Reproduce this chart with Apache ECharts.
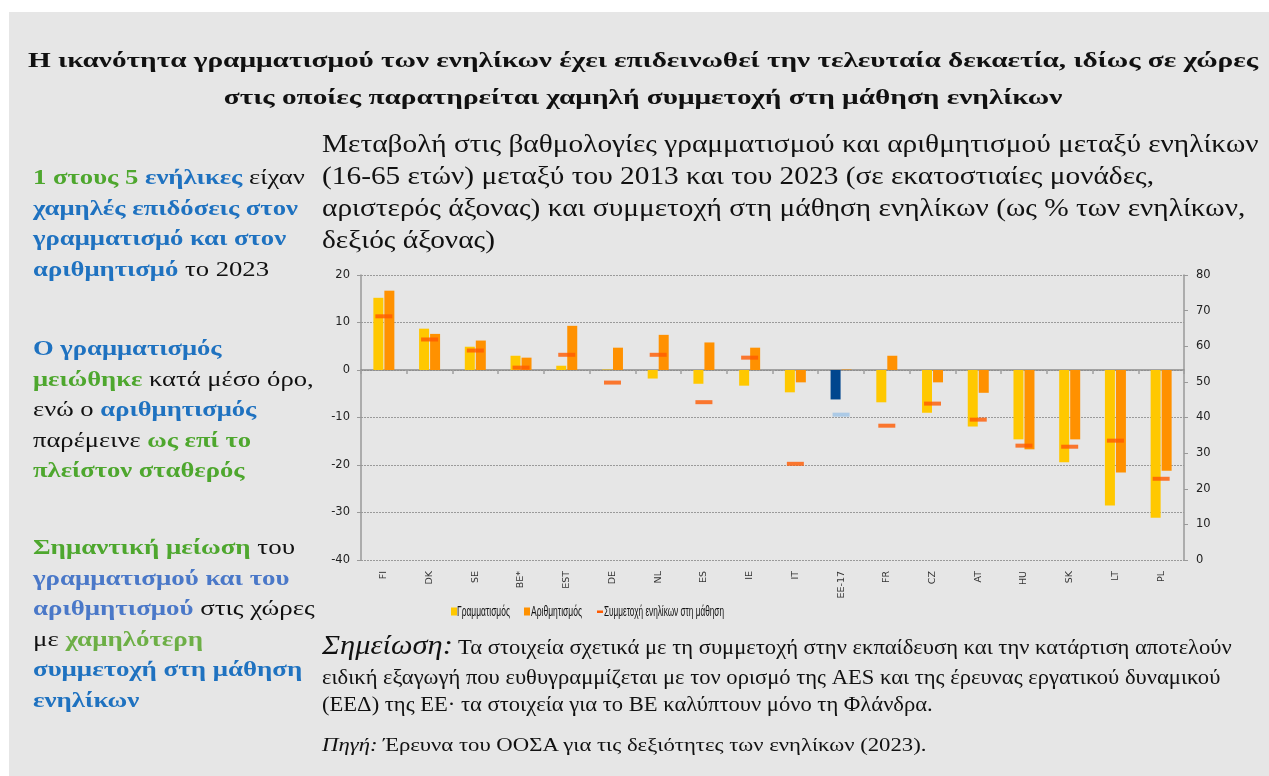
<!DOCTYPE html>
<html>
<head>
<meta charset="utf-8">
<script src="https://cdn.jsdelivr.net/npm/echarts/dist/echarts.min.js"></script>
<style>
  html, body { margin:0; padding:0; width:1269px; height:776px; background:#ffffff; overflow:hidden; }
  #panel { position:absolute; left:9px; top:12px; width:1260px; height:764px; background:#E6E6E6; }
  #chart { position:absolute; left:0; top:0; width:1269px; height:776px; }
  .txt { position:absolute; font-family:"Liberation Serif","Times New Roman",serif; color:#111; white-space:nowrap; transform-origin:0 0; }
  #title { left:0; top:41px; text-align:center; font-weight:bold; font-size:22px; line-height:37px; }
  #sub { left:322px; top:128px; font-size:25px; line-height:32px; }
  .side { left:33px; font-weight:bold; font-size:21px; line-height:30.5px; }
  .side .n { font-weight:normal; color:#111; }
  .g { color:#4EA72E; } .b { color:#1F72C0; } .lb { color:#4A78C8; } .lg { color:#6DAF46; }
  #note { left:322px; top:628px; font-size:20px; line-height:27px; }
  #note .l1 { line-height:34px; }
  #src { left:322px; top:733px; font-size:19px; line-height:24px; }
</style>
</head>
<body>
<div id="panel"></div>
<div id="chart"></div>
<div class="txt" id="title" data-w="1230" data-cx="643">Η ικανότητα γραμματισμού των ενηλίκων έχει επιδεινωθεί την τελευταία δεκαετία, ιδίως σε χώρες<br>στις οποίες παρατηρείται χαμηλή συμμετοχή στη μάθηση ενηλίκων</div>
<div class="txt" id="sub" data-w="936">Μεταβολή στις βαθμολογίες γραμματισμού και αριθμητισμού μεταξύ ενηλίκων<br>(16-65 ετών) μεταξύ του 2013 και του 2023 (σε εκατοστιαίες μονάδες,<br>αριστερός άξονας) και συμμετοχή στη μάθηση ενηλίκων (ως % των ενηλίκων,<br>δεξιός άξονας)</div>
<div class="txt side" style="top:162px" data-w="272"><span class="g">1 στους 5</span> <span class="b">ενήλικες</span> <span class="n">είχαν</span><br><span class="b">χαμηλές επιδόσεις στον</span><br><span class="b">γραμματισμό και στον</span><br><span class="b">αριθμητισμό</span> <span class="n">το 2023</span></div>
<div class="txt side" style="top:333px" data-w="280"><span class="b">Ο γραμματισμός</span><br><span class="g">μειώθηκε</span> <span class="n">κατά μέσο όρο,</span><br><span class="n">ενώ ο</span> <span class="b">αριθμητισμός</span><br><span class="n">παρέμεινε</span> <span class="g">ως επί το</span><br><span class="g">πλείστον σταθερός</span></div>
<div class="txt side" style="top:532px" data-w="282"><span class="g">Σημαντική μείωση</span> <span class="n">του</span><br><span class="lb">γραμματισμού και του</span><br><span class="lb">αριθμητισμού</span> <span class="n">στις χώρες</span><br><span class="n">με</span> <span class="lg">χαμηλότερη</span><br><span class="b">συμμετοχή στη μάθηση</span><br><span class="b">ενηλίκων</span></div>
<div class="txt" id="note" data-w="910"><div class="l1"><i style="font-size:27px">Σημείωση:</i> Τα στοιχεία σχετικά με τη συμμετοχή στην εκπαίδευση και την κατάρτιση αποτελούν</div><div>ειδική εξαγωγή που ευθυγραμμίζεται με τον ορισμό της AES και της έρευνας εργατικού δυναμικού</div><div>(ΕΕΔ) της ΕΕ· τα στοιχεία για το BE καλύπτουν μόνο τη Φλάνδρα.</div></div>
<div class="txt" id="src" data-w="604"><i>Πηγή:</i> Έρευνα του ΟΟΣΑ για τις δεξιότητες των ενηλίκων (2023).</div>
<script>
const categories = ['FI','DK','SE','BE*','EST','DE','NL','ES','IE','IT','EE-17','FR','CZ','AT','HU','SK','LT','PL'];
const literacy = [15.2, 8.7, 4.9, 3.0, 0.9, 0.1, -1.8, -2.9, -3.3, -4.7, -6.2, -6.8, -9.0, -11.9, -14.6, -19.4, -28.5, -31.1];
const numeracy = [16.7, 7.6, 6.2, 2.6, 9.3, 4.7, 7.4, 5.8, 4.7, -2.6, 0.1, 3.0, -2.6, -4.8, -16.7, -14.6, -21.6, -21.2];
const participation = [68.4, 61.9, 58.8, 54.0, 57.6, 49.8, 57.6, 44.3, 56.8, 27.0, 40.8, 37.7, 43.9, 39.4, 32.1, 31.8, 33.5, 22.8];
const leftTicks = [-40, -30, -20, -10, 0, 10, 20];
const rightTicks = [0, 10, 20, 30, 40, 50, 60, 70, 80];
const seriesNames = ['Γραμματισμός', 'Αριθμητισμός', 'Συμμετοχή ενηλίκων στη μάθηση'];
const highlightCat = 'EE-17';

// fit the text blocks horizontally (reference typography is wider)
document.querySelectorAll('.txt').forEach(el => {
  const w = el.scrollWidth;
  const s = el.dataset.w ? parseFloat(el.dataset.w) / w : 1;
  el.style.transform = 'scaleX(' + s + ')';
  if (el.dataset.cx) el.style.left = (parseFloat(el.dataset.cx) - w * s / 2) + 'px';
});

const C_LIT = '#FFC800', C_NUM = '#FF9100', C_PART = '#FF5A00', C_EU_LIT = '#00468E', C_EU_PART = '#9DC3E6';
const axisFont = '"DejaVu Sans", Verdana, sans-serif';
const legendFont = '15px "Liberation Sans", Arial, sans-serif';

// legend (narrow type, as in the reference)
const mctx = document.createElement('canvas').getContext('2d');
mctx.font = legendFont;
const legendItems = [
  {name:seriesNames[0], color:C_LIT, kind:'box', iconX:451, textX:457, textW:53},
  {name:seriesNames[1], color:C_NUM, kind:'box', iconX:524, textX:531, textW:51},
  {name:seriesNames[2], color:C_PART, kind:'dash', iconX:597, textX:604, textW:120}
];
const legendY = 611.5;
const graphic = [];
legendItems.forEach(it => {
  if (it.kind === 'box') graphic.push({type:'rect', x:it.iconX, y:legendY - 4, shape:{width:6, height:8}, style:{fill:it.color}, silent:true});
  else graphic.push({type:'rect', x:it.iconX, y:legendY - 1, shape:{width:6, height:2.5}, style:{fill:it.color}, silent:true});
  const tw = mctx.measureText(it.name).width;
  graphic.push({type:'text', x:it.textX, y:legendY, scaleX: it.textW / tw,
    style:{text:it.name, font:legendFont, fill:'#111', verticalAlign:'middle', align:'left'}, silent:true});
});

const chart = echarts.init(document.getElementById('chart'), null, {renderer:'canvas'});
const litData = literacy.map((v,i) => categories[i] === highlightCat ? {value:v, itemStyle:{color:C_EU_LIT}} : v);
const partData = participation.map((v,i) => categories[i] === highlightCat ? {value:v, itemStyle:{color:C_EU_PART}} : v);

chart.setOption({
  animation:false,
  backgroundColor:'transparent',
  grid:{left:361, right:85, top:275, bottom:216, containLabel:false},
  graphic: graphic,
  xAxis:[
    {type:'category', data:categories, position:'bottom', axisLine:{show:false}, axisTick:{show:false},
     axisLabel:{rotate:90, fontFamily:axisFont, fontSize:9.5, color:'#333', margin:11, interval:0}},
    {type:'category', data:categories, position:'top', axisLine:{show:true, onZero:true, onZeroAxisIndex:0, lineStyle:{color:'#8c8c8c', width:1.5}},
     axisTick:{show:true, inside:true, length:4, lineStyle:{color:'#a0a0a0', width:1.5}}, axisLabel:{show:false}, splitLine:{show:false}}
  ],
  yAxis:[
    {type:'value', min:leftTicks[0], max:leftTicks[leftTicks.length-1], interval:10, position:'left',
     axisLine:{show:true, lineStyle:{color:'#999', width:1.5}}, axisTick:{show:true, length:4, lineStyle:{color:'#999'}},
     axisLabel:{fontFamily:axisFont, fontSize:11.5, color:'#222', margin:11},
     splitLine:{show:true, lineStyle:{color:'#9a9a9a', type:[2,1], width:1}}},
    {type:'value', min:rightTicks[0], max:rightTicks[rightTicks.length-1], interval:10, position:'right',
     axisLine:{show:true, lineStyle:{color:'#999', width:1.5}}, axisTick:{show:true, length:4, lineStyle:{color:'#999'}},
     axisLabel:{fontFamily:axisFont, fontSize:11.5, color:'#222', margin:12},
     splitLine:{show:false}}
  ],
  series:[
    {name:seriesNames[0], type:'bar', xAxisIndex:0, yAxisIndex:0, data:litData, barWidth:10, barGap:'10%', itemStyle:{color:C_LIT}},
    {name:seriesNames[1], type:'bar', xAxisIndex:0, yAxisIndex:0, data:numeracy, barWidth:10, barGap:'10%', itemStyle:{color:C_NUM}},
    {name:seriesNames[2], type:'scatter', xAxisIndex:0, yAxisIndex:1, data:partData, symbol:'rect', symbolSize:[17,4], itemStyle:{color:C_PART}, z:5}
  ]
});
</script>
</body>
</html>
